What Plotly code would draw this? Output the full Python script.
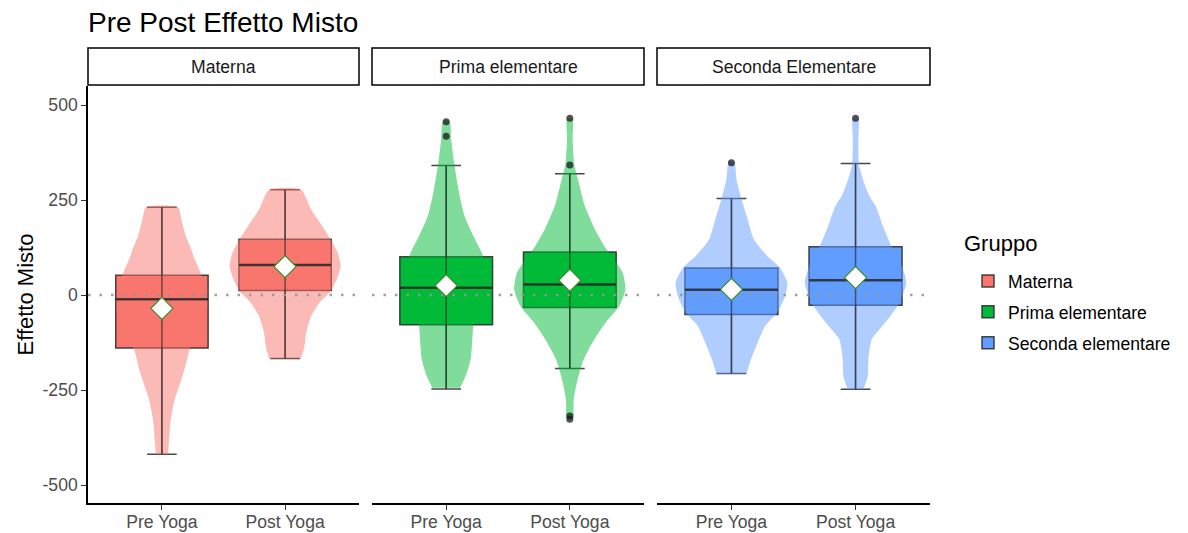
import plotly.graph_objects as go

# ---------------- data ----------------
groups = ["Materna", "Prima elementare", "Seconda elementare"]
strip_labels = ["Materna", "Prima elementare", "Seconda Elementare"]
times = ["Pre Yoga", "Post Yoga"]
colors = ["#F8766D", "#00BA38", "#619CFF"]

# box statistics per group: [Pre, Post]
q1 = [[-139, 12], [-78, -33], [-51, -27]]
median = [[-11, 79], [19, 28], [14, 39]]
q3 = [[52, 147], [101, 113], [71, 127]]
lower = [[-419, -167], [-247, -193], [-206, -248]]
upper = [[231, 277], [341, 319], [254, 346]]
means = [[-35, 75], [25, 39], [15, 46]]
outliers = [[[], []], [[456, 418], [465, 342, -318, -327]], [[348], [465]]]

# violin profiles (value, relative density) per group, [Pre, Post]
violin_vals = [
    [[231, 200, 160, 120, 98, 54, 20, -20, -60, -100, -139, -170, -200, -240, -270, -310, -340, -380, -419],
     [277, 225, 181, 147, 111, 76, 41, 10, -20, -55, -99, -134, -167]],
    [[458, 410, 340, 278, 208, 155, 111, 60, 20, -20, -50, -77, -117, -169, -213, -244],
     [464, 410, 344, 296, 234, 173, 129, 100, 59, 15, -29, -73, -117, -169, -222, -275, -323]],
    [[350, 304, 252, 199, 147, 103, 72, 32, -3, -46, -82, -125, -169, -207],
     [464, 410, 344, 296, 260, 234, 182, 129, 80, 32, -29, -73, -117, -169, -213, -248]],
]
violin_dens = [
    [[.29, .35, .42, .53, .58, .71, .78, .82, .80, .67, .51, .45, .40, .31, .24, .18, .15, .13, .11],
     [.29, .47, .67, .82, .95, 1.0, .93, .82, .62, .47, .38, .35, .29]],
    [[.06, .09, .15, .22, .33, .49, .64, .73, .75, .67, .56, .49, .47, .44, .35, .25],
     [.05, .05, .08, .16, .27, .45, .62, .76, .95, 1.0, .89, .64, .44, .25, .14, .07, .07]],
    [[.05, .09, .18, .29, .40, .64, .87, 1.0, .96, .82, .60, .47, .35, .27],
     [.05, .05, .06, .15, .25, .36, .49, .64, .82, .91, .75, .53, .29, .23, .22, .14]],
]

# ---------------- style ----------------
FONT = "Liberation Sans, Arial, sans-serif"
W, H = 1188, 533
ML, MR, MT, MB = 88, 258, 86, 30
PW = W - ML - MR
PH = H - MT - MB
panel_px = [(88, 359), (372, 644), (657, 930)]
domains = [[(a - ML) / PW, (b - ML) / PW] for a, b in panel_px]
BOX_W = 0.75
VIOLIN_HALF = 0.45
CAP_W = 0.32
positions = [1, 2]
line_col = "rgba(40,40,40,0.85)"


def rgba(hexc, a):
    h = hexc.lstrip("#")
    return "rgba(%d,%d,%d,%.2f)" % (int(h[0:2], 16), int(h[2:4], 16), int(h[4:6], 16), a)


fig = go.Figure()

for gi, g in enumerate(groups):
    xa = "x" if gi == 0 else "x%d" % (gi + 1)
    ya = "y" if gi == 0 else "y%d" % (gi + 1)
    col = colors[gi]
    # violins
    for ti in range(2):
        pos = positions[ti]
        vals = violin_vals[gi][ti]
        dens = violin_dens[gi][ti]
        xs = [pos + d * VIOLIN_HALF for d in dens[::-1]] + [pos - d * VIOLIN_HALF for d in dens]
        ys = list(vals[::-1]) + list(vals)
        fig.add_trace(go.Scatter(
            x=xs, y=ys, xaxis=xa, yaxis=ya, mode="lines", fill="toself",
            fillcolor=rgba(col, 0.5), line=dict(width=0, shape="spline", smoothing=0.6),
            showlegend=False, hoverinfo="skip"))
    # boxes
    for ti in range(2):
        pos = positions[ti]
        fig.add_trace(go.Box(
            x=[pos], q1=[q1[gi][ti]], median=[median[gi][ti]], q3=[q3[gi][ti]],
            lowerfence=[lower[gi][ti]], upperfence=[upper[gi][ti]],
            xaxis=xa, yaxis=ya, width=BOX_W, whiskerwidth=CAP_W,
            fillcolor=col, line=dict(color=line_col, width=1.5),
            boxpoints=False, name=g, legendgroup=g,
            showlegend=(ti == 0), hoverinfo="skip"))
        # full whisker line through box
        fig.add_trace(go.Scatter(
            x=[pos, pos], y=[lower[gi][ti], upper[gi][ti]], xaxis=xa, yaxis=ya,
            mode="lines", line=dict(color="rgba(30,30,30,0.6)", width=1.5),
            showlegend=False, hoverinfo="skip"))
        # thick median
        fig.add_trace(go.Scatter(
            x=[pos - BOX_W / 2, pos + BOX_W / 2], y=[median[gi][ti]] * 2, xaxis=xa, yaxis=ya,
            mode="lines", line=dict(color="rgba(40,40,40,0.8)", width=2.5),
            showlegend=False, hoverinfo="skip"))
    # zero reference line
    fig.add_trace(go.Scatter(
        x=[0.4, 2.6], y=[0, 0], xaxis=xa, yaxis=ya, mode="lines",
        line=dict(color="rgba(150,150,150,0.9)", width=2.5, dash="2.5px,9px"),
        showlegend=False, hoverinfo="skip"))
    # outliers
    ox, oy = [], []
    for ti in range(2):
        for v in outliers[gi][ti]:
            ox.append(positions[ti])
            oy.append(v)
    if ox:
        fig.add_trace(go.Scatter(
            x=ox, y=oy, xaxis=xa, yaxis=ya, mode="markers",
            marker=dict(size=7, color="rgba(25,25,25,0.75)"),
            showlegend=False, hoverinfo="skip"))
    # means
    fig.add_trace(go.Scatter(
        x=positions, y=means[gi], xaxis=xa, yaxis=ya, mode="markers",
        marker=dict(symbol="diamond", size=17, color="white",
                    line=dict(color="#3C8C2C", width=1.2)),
        showlegend=False, hoverinfo="skip"))

layout = dict(
    width=W, height=H,
    margin=dict(l=ML, r=MR, t=MT, b=MB, autoexpand=False),
    paper_bgcolor="white", plot_bgcolor="white",
    font=dict(family=FONT, color="#1A1A1A"),
    title=dict(text="Pre Post Effetto Misto", x=0, xref="paper", xanchor="left",
               y=1 - 22 / H, yref="container", yanchor="middle",
               font=dict(size=28, family=FONT, color="black")),
    showlegend=True,
    legend=dict(font=dict(size=17.6, color="black"),
                x=(968 - ML) / PW, xanchor="left", y=(503 - 263) / PH, yanchor="top",
                bgcolor="rgba(0,0,0,0)", tracegroupgap=5),
    boxmode="overlay",
)
tickfont = dict(size=17.6, color="#4D4D4D", family=FONT)
for gi in range(3):
    sx = "" if gi == 0 else str(gi + 1)
    layout["xaxis" + sx] = dict(
        domain=domains[gi], anchor="y" + sx, range=[0.4, 2.6], automargin=False,
        tickvals=positions, ticktext=times, showline=True, linecolor="black", linewidth=1.5,
        ticks="outside", ticklen=5, tickcolor="#333333", tickwidth=1.2,
        ticklabelstandoff=-3,
        tickfont=tickfont, showgrid=False, zeroline=False, fixedrange=True)
    ydict = dict(domain=[0, 1], anchor="x" + sx, range=[-547, 550], automargin=False,
                 showgrid=False, zeroline=False, fixedrange=True)
    if gi == 0:
        ydict.update(tickvals=[-500, -250, 0, 250, 500],
                     ticktext=["-500", "-250", "0", "250", "500"],
                     showline=True, linecolor="black", linewidth=1.5,
                     ticks="outside", ticklen=5, tickcolor="#333333", tickwidth=1.2,
                     tickfont=tickfont)
    else:
        ydict.update(matches="y", showline=False, showticklabels=False, ticks="")
    layout["yaxis" + sx] = ydict

shapes = []
annotations = []
for gi in range(3):
    d0, d1 = domains[gi]
    shapes.append(dict(type="rect", xref="paper", yref="paper", x0=d0, x1=d1,
                       y0=1 + 1 / PH, y1=1 + 38 / PH,
                       line=dict(color="black", width=1.5), fillcolor="white", layer="above"))
    annotations.append(dict(text=strip_labels[gi], xref="paper", yref="paper",
                            x=(d0 + d1) / 2, y=1 + 19.5 / PH, showarrow=False,
                            xanchor="center", yanchor="middle",
                            font=dict(size=17.6, color="#1A1A1A", family=FONT)))
annotations.append(dict(text="Effetto Misto", xref="paper", yref="paper",
                        x=(25 - ML) / PW, y=0.5, showarrow=False, textangle=-90,
                        xanchor="center", yanchor="middle",
                        font=dict(size=22, color="black", family=FONT)))
annotations.append(dict(text="Gruppo", xref="paper", yref="paper",
                        x=(962 - ML) / PW, y=(503 - 243) / PH, showarrow=False,
                        xanchor="left", yanchor="middle",
                        font=dict(size=22, color="black", family=FONT)))
layout["shapes"] = shapes
layout["annotations"] = annotations

fig.update_layout(**layout)
fig.write_html("out.html")
